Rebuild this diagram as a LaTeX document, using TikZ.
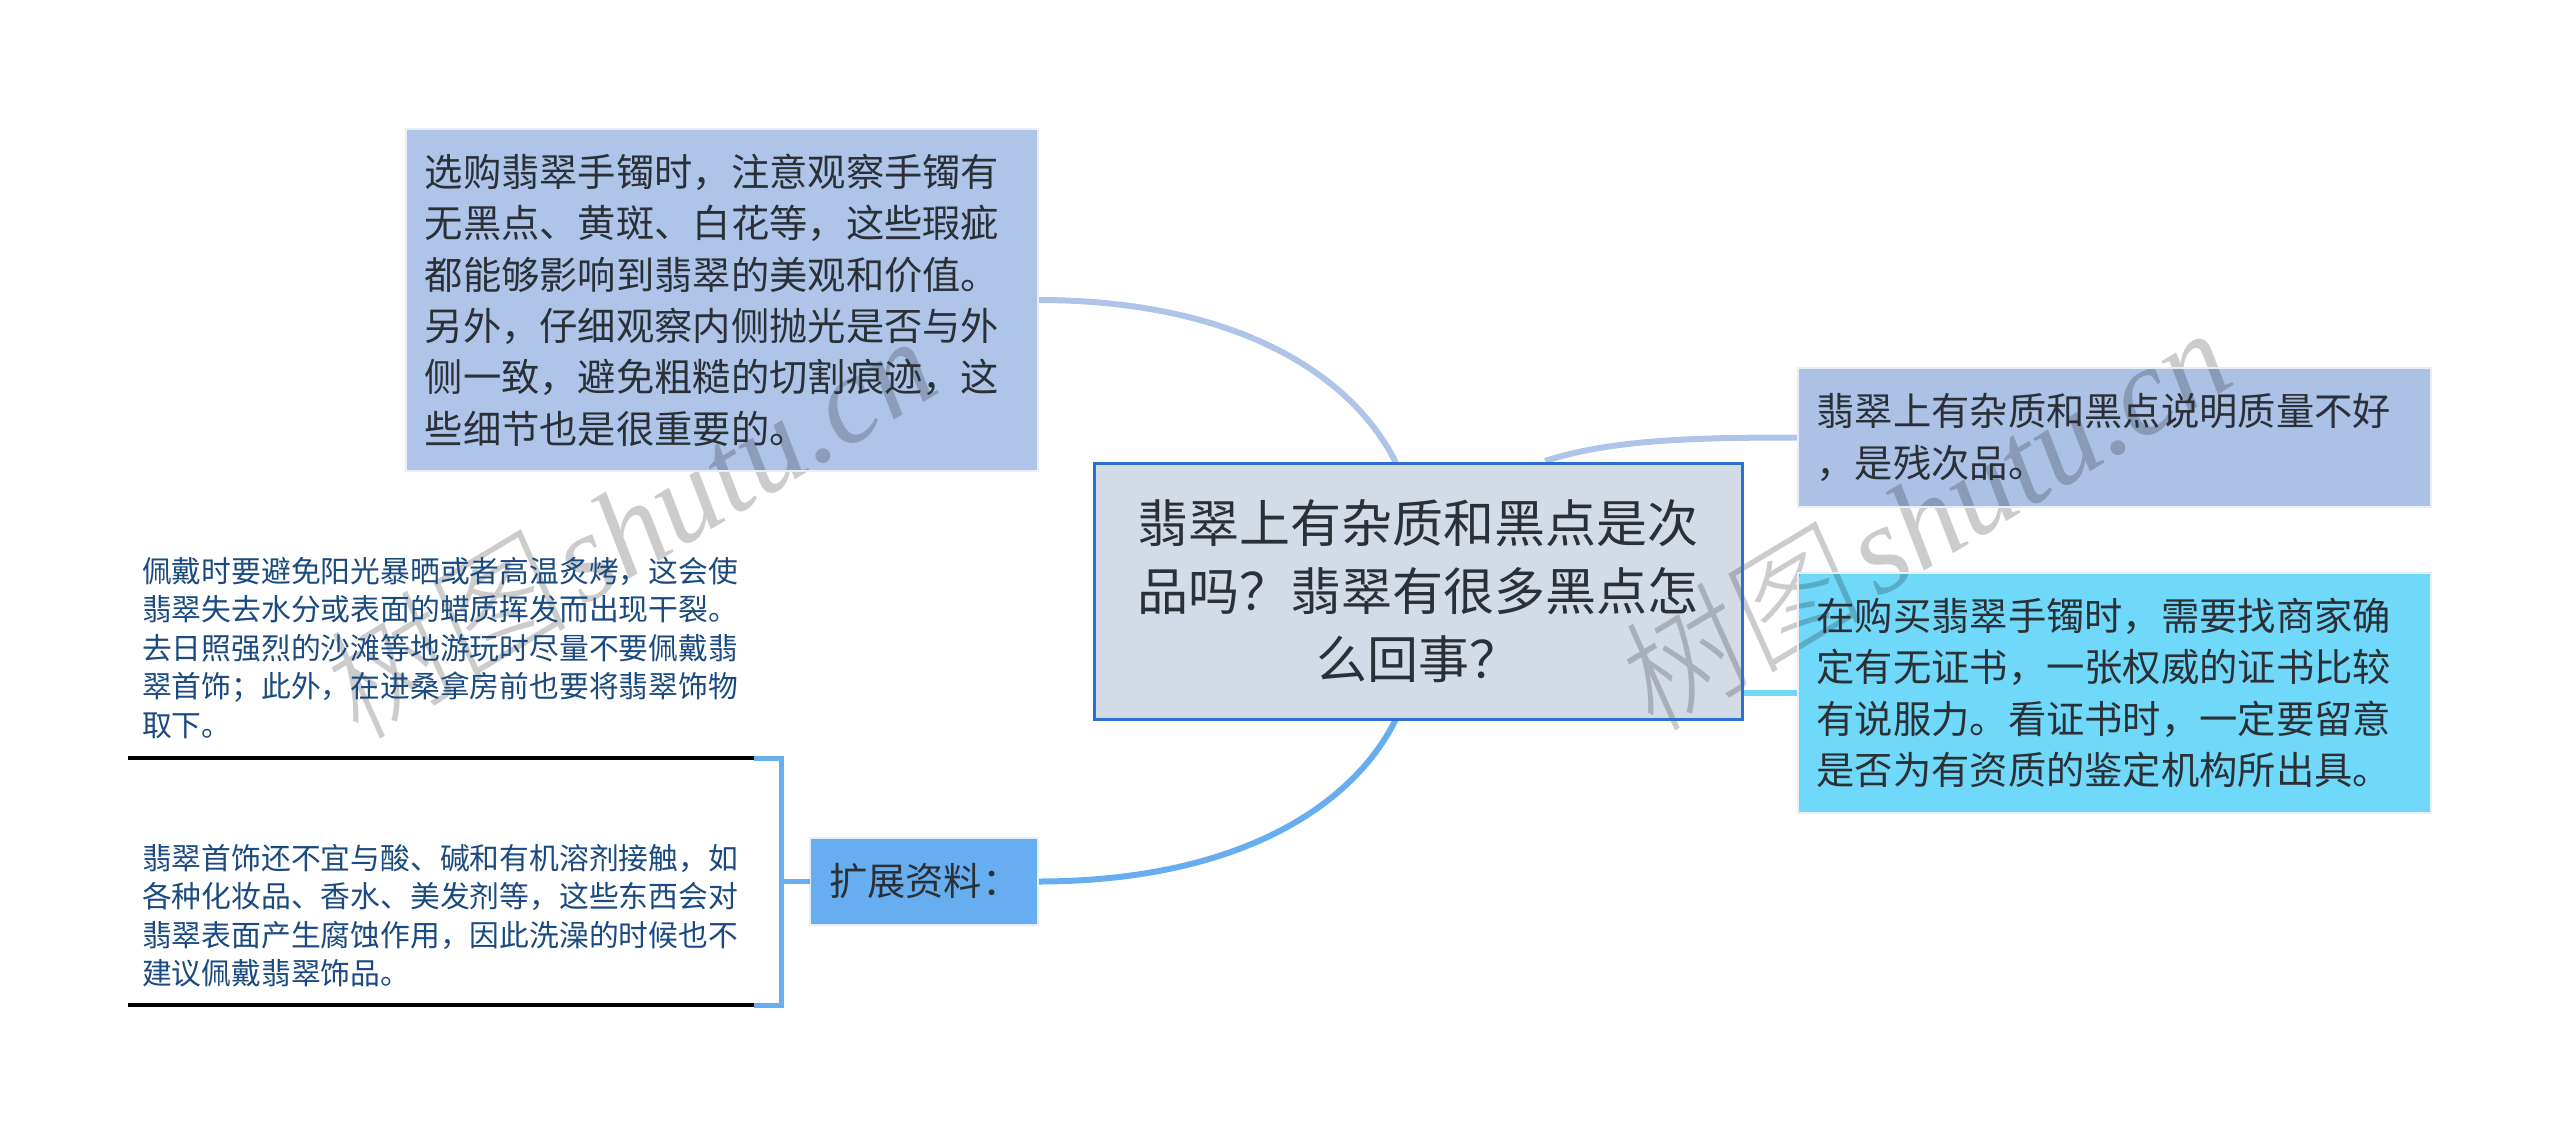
\documentclass[tikz,border=0pt]{standalone}
\usepackage{fontspec}
\setmainfont{Noto Sans CJK SC}
\newfontfamily\wmcjk[FakeSlant=0.12]{Noto Sans CJK SC Light}
\newfontfamily\wmlat{Liberation Serif}
\usetikzlibrary{calc}
\definecolor{inkdark}{HTML}{2B3036}
\definecolor{inkblue}{HTML}{1B4A80}
\definecolor{boxblue}{HTML}{AEC5E9}
\definecolor{boxblueb}{HTML}{ACC1E6}
\definecolor{boxcyan}{HTML}{70D8F8}
\definecolor{boxext}{HTML}{66AEEF}
\definecolor{rootfill}{HTML}{D3DBE7}
\definecolor{rootline}{HTML}{2F6FCE}
\definecolor{edgefaint}{HTML}{E6EEF8}
\pgfdeclarelayer{linklayer}
\pgfdeclarelayer{filllayer}
\pgfdeclarelayer{marklayer}
\pgfsetlayers{linklayer,filllayer,marklayer,main}
\newcommand{\wmtext}{\fontsize{125}{125}\selectfont{\wmcjk 树图}\hspace{14pt}{\wmlat\itshape shutu.cn}}
\tikzset{
 x=1pt,y=-1pt,
 leafbox/.style={draw=edgefaint,line width=2pt,inner sep=0pt,outer sep=0pt,anchor=north west,align=left,text=inkdark,font=\fontsize{38.3}{51.4}\selectfont},
 rootbox/.style={draw=rootline,line width=3pt,inner sep=0pt,outer sep=0pt,anchor=north west,align=center,text=inkdark,font=\fontsize{51}{68}\selectfont},
 notetext/.style={inner sep=0pt,outer sep=0pt,anchor=west,align=left,text=inkblue,font=\fontsize{29.8}{38.5}\selectfont},
 link/.style={line width=6pt},
 bracket/.style={line width=5pt,draw=boxext},
 underline/.style={line width=4.5pt,draw=black},
 watermark/.style={text=black,text opacity=.2,rotate=31,anchor=center}
}
\begin{document}
\begin{tikzpicture}
\useasboundingbox (0,0) rectangle (2560,1133);
% boxes
\node[leafbox,minimum width=632.5pt,minimum height=342pt,text width=594pt] (choose) at (405.5,129) {%
选购翡翠手镯时，注意观察手镯有\\无黑点、黄斑、白花等，这些瑕疵\\都能够影响到翡翠的美观和价值。\\另外，仔细观察内侧抛光是否与外\\侧一致，避免粗糙的切割痕迹，这\\些细节也是很重要的。};
\node[leafbox,minimum width=633pt,minimum height=139pt,text width=596pt] (quality) at (1798,368) {%
翡翠上有杂质和黑点说明质量不好\\，是残次品。};
\node[leafbox,minimum width=633pt,minimum height=240pt,text width=596pt] (cert) at (1798,573) {%
在购买翡翠手镯时，需要找商家确\\定有无证书，一张权威的证书比较\\有说服力。看证书时，一定要留意\\是否为有资质的鉴定机构所出具。};
\node[leafbox,minimum width=228pt,minimum height=87pt,text width=190pt] (ext) at (810,838) {扩展资料：};
\node[rootbox,minimum width=648pt,minimum height=256pt,text width=600pt] (root) at (1094,463) {%
翡翠上有杂质和黑点是次\\品吗？翡翠有很多黑点怎\\么回事？};
% left notes
\node[notetext] (noteA) at (142,648) {佩戴时要避免阳光暴晒或者高温炙烤，这会使\\翡翠失去水分或表面的蜡质挥发而出现干裂。\\去日照强烈的沙滩等地游玩时尽量不要佩戴翡\\翠首饰；此外，在进桑拿房前也要将翡翠饰物\\取下。};
\node[notetext] (noteB) at (142,915.5) {翡翠首饰还不宜与酸、碱和有机溶剂接触，如\\各种化妆品、香水、美发剂等，这些东西会对\\翡翠表面产生腐蚀作用，因此洗澡的时候也不\\建议佩戴翡翠饰品。};
% fills under the watermark
\begin{pgfonlayer}{filllayer}
\fill[boxblue] (choose.north west) rectangle (choose.south east);
\fill[boxblueb] (quality.north west) rectangle (quality.south east);
\fill[boxcyan] (cert.north west) rectangle (cert.south east);
\fill[boxext] (ext.north west) rectangle (ext.south east);
\fill[rootfill] (root.north west) rectangle (root.south east);
\end{pgfonlayer}
% watermark
\begin{pgfonlayer}{marklayer}
\node[watermark] (wmA) at (626,526) {\wmtext};
\node[watermark] (wmB) at (1921,518) {\wmtext};
\end{pgfonlayer}
% connectors behind everything
\begin{pgfonlayer}{linklayer}
\draw[link,draw=boxblue] (choose.east) .. controls +(191,0) and (1350,370) .. ([xshift=-22pt]root.north);
\draw[link,draw=boxblue] (quality.west) .. controls +(-108,0) and (1610,440) .. ([xshift=127pt,yshift=2pt]root.north);
\draw[link,draw=boxcyan] (cert.west) -- (cert.west -| root.east);
\draw[link,draw=boxext] (ext.east) .. controls +(191,0) and (1350,812) .. ([xshift=-22pt]root.south);
\end{pgfonlayer}
% bracket
\coordinate (brA) at (754,758);
\coordinate (brB) at (754,1005);
\coordinate (brM) at (781,881.5);
\coordinate (lnA) at (127.5,758);
\coordinate (lnB) at (127.5,1005);
\draw[bracket] (ext.west) -- (brM);
\draw[bracket] (brA) -- (brA -| brM) -- (brB -| brM) -- (brB);
\draw[underline] (lnA) -- (brA);
\draw[underline] (lnB) -- (brB);
\end{tikzpicture}
\end{document}
